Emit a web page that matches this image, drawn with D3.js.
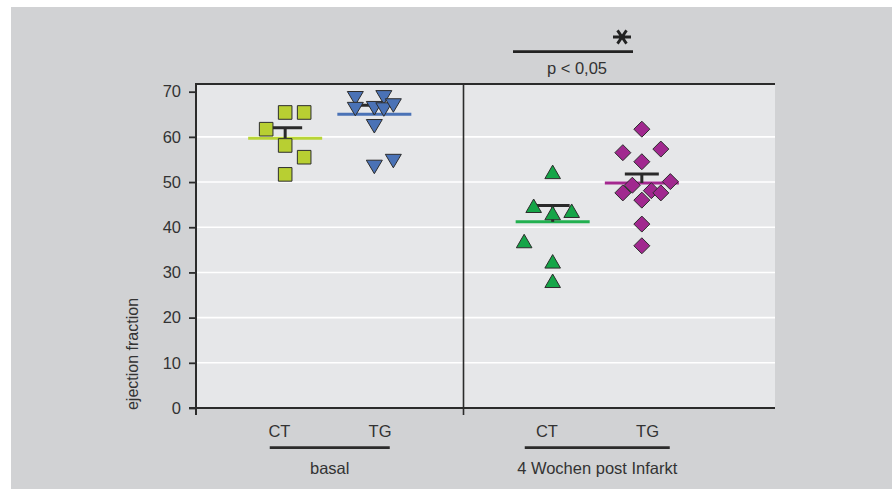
<!DOCTYPE html>
<html>
<head>
<meta charset="utf-8">
<script src="https://cdn.jsdelivr.net/npm/d3@7/dist/d3.min.js"></script>
<style>
  html, body { margin: 0; padding: 0; background: #ffffff; }
  svg { display: block; }
  text { font-family: "Liberation Sans", Arial, sans-serif; fill: #333333; }
</style>
</head>
<body>
<svg id="chart" width="892" height="489"></svg>
<script>
// ---- data -------------------------------------------------------------
const conditions = ["basal", "4 Wochen post Infarkt"];
const groups = ["CT", "TG"];
const yTicks = [0, 10, 20, 30, 40, 50, 60, 70];
const gridValues = [10, 20, 30, 40, 50, 60];

// ejection fraction per animal
const ctBasal = [65.4, 65.4, 61.7, 58.1, 55.5, 51.7];
const tgBasal = [68.6, 68.8, 66.2, 66.4, 66.1, 67.0, 62.4, 54.7, 53.4];
const ctInfarkt = [52.2, 44.7, 43.1, 43.6, 36.9, 32.4, 28.1];
const tgInfarkt = [61.7, 56.5, 57.3, 54.5, 49.3, 50.1, 48.1, 47.6, 47.6, 46.0, 40.7, 35.9];

// horizontal slot of each point within its column (overlap avoidance)
const ctBasalSlot = [0, 2, -2, 0, 2, 0];
const tgBasalSlot = [-2, 1, -2, 0, 1, 2, 0, 2, 0];
const ctInfarktSlot = [0, -2, 0, 2, -3, 0, 0];
const tgInfarktSlot = [0, -2, 2, 0, -1, 3, 1, 2, -2, 0, 0, 0];

// group mean and standard error of the mean
const groupMeans = [59.7, 65.0, 41.2, 49.8];
const groupSem = [2.3, 2.0, 3.6, 2.0];

const significanceLabel = "p < 0,05";
const yLabel = "ejection fraction";

// ---- layout -----------------------------------------------------------
const W = 892, H = 489;
const plot = { left: 196, right: 775, top: 84, bottom: 408 };
const panelsRight = 731;   // extent used for placing the two condition panels

const svg = d3.select("#chart");

svg.append("rect")
  .attr("x", 11).attr("y", 7)
  .attr("width", W - 11).attr("height", H - 7)
  .attr("fill", "#d1d2d4");

svg.append("rect")
  .attr("x", plot.left).attr("y", plot.top)
  .attr("width", plot.right - plot.left).attr("height", plot.bottom - plot.top)
  .attr("fill", "#e6e7e9");

const y = d3.scaleLinear().domain([0, 71.7]).range([plot.bottom, plot.top]);

const xPanel = d3.scaleBand().domain(conditions).range([plot.left, panelsRight]);
const xGroup = d3.scalePoint().domain(groups).range([0, xPanel.bandwidth()]).padding(1);
const xLabel = d3.scalePoint().domain(groups).range([0, xPanel.bandwidth()]).padding(0.83);
const xSlot = d3.scaleLinear().domain([-1, 1]).range([-9.5, 9.5]);

// gridlines
svg.append("g").selectAll("line").data(gridValues).join("line")
  .attr("x1", plot.left).attr("x2", plot.right)
  .attr("y1", d => y(d)).attr("y2", d => y(d))
  .attr("stroke", "#ffffff").attr("stroke-width", 1.6);

// y axis ticks and labels
const yAxis = d3.axisLeft(y).tickValues(yTicks).tickSize(7).tickPadding(8).tickSizeOuter(0);
const gy = svg.append("g").attr("transform", `translate(${plot.left},0)`).call(yAxis);
gy.select(".domain").remove();
gy.selectAll(".tick line").attr("stroke", "#2b2b2b").attr("stroke-width", 1.8);
gy.selectAll(".tick text")
  .attr("font-size", 16.5).attr("fill", "#333")
  .style("font-family", '"Liberation Sans", Arial, sans-serif');

// frame: top, left axis, bottom axis, panel divider
const axisColor = "#2b2b2b";
svg.append("line").attr("x1", plot.left).attr("x2", plot.right)
  .attr("y1", plot.top).attr("y2", plot.top)
  .attr("stroke", axisColor).attr("stroke-width", 2);
svg.append("line").attr("x1", plot.left).attr("x2", plot.left)
  .attr("y1", plot.top - 1).attr("y2", plot.bottom + 7)
  .attr("stroke", axisColor).attr("stroke-width", 2);
svg.append("line").attr("x1", plot.left - 7).attr("x2", plot.right)
  .attr("y1", plot.bottom).attr("y2", plot.bottom)
  .attr("stroke", axisColor).attr("stroke-width", 2);
const divX = xPanel(conditions[1]);
svg.append("line").attr("x1", divX).attr("x2", divX)
  .attr("y1", plot.top).attr("y2", plot.bottom + 7)
  .attr("stroke", axisColor).attr("stroke-width", 1.6);

// y axis title
svg.append("text")
  .attr("transform", `translate(138,354) rotate(-90)`)
  .attr("text-anchor", "middle")
  .attr("font-size", 16)
  .text(yLabel);

// group labels, underline and condition names
const underlineHalf = [60, 72.5];
conditions.forEach((c, i) => {
  const x0 = xPanel(c);
  groups.forEach(g => {
    svg.append("text")
      .attr("x", x0 + xLabel(g)).attr("y", 437)
      .attr("text-anchor", "middle").attr("font-size", 16.5)
      .text(g);
  });
  const mid = x0 + (xLabel(groups[0]) + xLabel(groups[1])) / 2;
  svg.append("line")
    .attr("x1", mid - underlineHalf[i]).attr("x2", mid + underlineHalf[i])
    .attr("y1", 447.7).attr("y2", 447.7)
    .attr("stroke", "#2b2b2b").attr("stroke-width", 2.8);
  svg.append("text")
    .attr("x", mid).attr("y", 474)
    .attr("text-anchor", "middle").attr("font-size", 16.5)
    .text(c);
});

// ---- series -----------------------------------------------------------
const series = [
  { cond: 0, group: "CT", values: ctBasal, slots: ctBasalSlot, shape: "square",
    fill: "#b8cf32", line: "#b8d436" },
  { cond: 0, group: "TG", values: tgBasal, slots: tgBasalSlot, shape: "down",
    fill: "#4a72b6", line: "#4a72b6" },
  { cond: 1, group: "CT", values: ctInfarkt, slots: ctInfarktSlot, shape: "up",
    fill: "#15a548", line: "#22b050" },
  { cond: 1, group: "TG", values: tgInfarkt, slots: tgInfarktSlot, shape: "diamond",
    fill: "#a1288f", line: "#a4288f" }
];

const shapes = {
  square: "M-6.8,-6.8H6.8V6.8H-6.8Z",
  down: "M-8,-6.5L8,-6.5L0,7Z",
  up: "M0,-7L7.8,6.5L-7.8,6.5Z",
  diamond: "M0,-8L8,0L0,8L-8,0Z"
};

series.forEach((s, i) => {
  const cx = xPanel(conditions[s.cond]) + xGroup(s.group);
  const m = groupMeans[i];
  const top = m + groupSem[i];
  const g = svg.append("g");

  // mean line
  g.append("line")
    .attr("x1", cx - 37).attr("x2", cx + 37)
    .attr("y1", y(m)).attr("y2", y(m))
    .attr("stroke", s.line).attr("stroke-width", 3);

  // SEM bar (upper)
  g.append("line")
    .attr("x1", cx).attr("x2", cx)
    .attr("y1", y(top)).attr("y2", y(m))
    .attr("stroke", "#2a2a2a").attr("stroke-width", 3);
  g.append("line")
    .attr("x1", cx - 17).attr("x2", cx + 17)
    .attr("y1", y(top)).attr("y2", y(top))
    .attr("stroke", "#2a2a2a").attr("stroke-width", 3);

  // individual animals
  g.selectAll("path").data(s.values).join("path")
    .attr("d", shapes[s.shape])
    .attr("transform", (d, k) => `translate(${cx + xSlot(s.slots[k])},${y(d)})`)
    .attr("fill", s.fill)
    .attr("stroke", "#2d2d2d").attr("stroke-width", 1);
});

// ---- significance marker ------------------------------------------------
svg.append("line")
  .attr("x1", 513).attr("x2", 633).attr("y1", 51.7).attr("y2", 51.7)
  .attr("stroke", "#222").attr("stroke-width", 2.8);
svg.append("text")
  .attr("x", 577).attr("y", 74)
  .attr("text-anchor", "middle").attr("font-size", 16.5)
  .text(significanceLabel);
// six-spoke star
const star = d3.path();
const sx = 622, sy = 37, r = 9;
[0, 60, 120].forEach(a => {
  const t = a * Math.PI / 180;
  star.moveTo(sx - r * Math.cos(t), sy - r * Math.sin(t) * 0.85);
  star.lineTo(sx + r * Math.cos(t), sy + r * Math.sin(t) * 0.85);
});
svg.append("path").attr("d", star.toString())
  .attr("stroke", "#222").attr("stroke-width", 2.8).attr("fill", "none");
</script>
</body>
</html>
